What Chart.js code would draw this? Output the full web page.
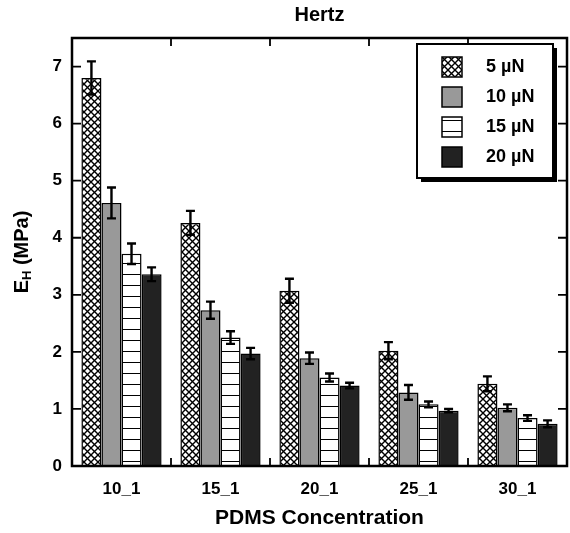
<!DOCTYPE html>
<html>
<head>
<meta charset="utf-8">
<script src="https://cdn.jsdelivr.net/npm/chart.js@4"></script>
<style>
  body { margin: 0; background: #fff; }
  #wrap { width: 570px; height: 533px; position: relative; }
</style>
</head>
<body>
<div id="wrap"><canvas id="grafico"></canvas></div>
<script>
const categories = ["10_1", "15_1", "20_1", "25_1", "30_1"];
const seriesLabels = ["5 µN", "10 µN", "15 µN", "20 µN"];
const e5 = [6.80, 4.26, 3.07, 2.02, 1.44];
const e10 = [4.61, 2.73, 1.89, 1.29, 1.02];
const e15 = [3.72, 2.25, 1.55, 1.08, 0.84];
const e20 = [3.36, 1.97, 1.41, 0.97, 0.74];
const err5 = [0.29, 0.21, 0.21, 0.15, 0.13];
const err10 = [0.27, 0.15, 0.10, 0.13, 0.06];
const err15 = [0.18, 0.11, 0.07, 0.05, 0.05];
const err20 = [0.12, 0.10, 0.05, 0.03, 0.06];
const yTicks = [0, 1, 2, 3, 4, 5, 6, 7];

const FONT = "'Liberation Sans', Arial, sans-serif";

function patron(w, h, dibujar) {
  const c = document.createElement("canvas");
  c.width = w; c.height = h;
  const g = c.getContext("2d");
  g.fillStyle = "#fff";
  g.fillRect(0, 0, w, h);
  dibujar(g);
  return g.createPattern(c, "repeat");
}

const cruzado = patron(7, 7, g => {
  g.strokeStyle = "#000";
  g.lineWidth = 1.4;
  g.beginPath();
  g.moveTo(0, 0); g.lineTo(7, 7);
  g.moveTo(7, 0); g.lineTo(0, 7);
  g.stroke();
});
const rayado = patron(8, 11, g => {
  g.fillStyle = "#000";
  g.fillRect(0, 10, 8, 1.4);
});

const rellenos = [cruzado, "#999999", rayado, "#222222"];
const valores = [e5, e10, e15, e20];
const errores = [err5, err10, err15, err20];

const datasets = valores.map((v, i) => ({
  label: seriesLabels[i],
  data: v,
  errores: errores[i],
  backgroundColor: rellenos[i],
  borderColor: "#000",
  borderWidth: 1.5,
  barPercentage: 1.0,
  categoryPercentage: 0.81
}));

const barrasError = {
  id: "barrasError",
  afterDatasetsDraw(chart) {
    const ctx = chart.ctx;
    const y = chart.scales.y;
    ctx.save();
    ctx.strokeStyle = "#000";
    ctx.lineWidth = 2.4;
    chart.data.datasets.forEach((ds, i) => {
      chart.getDatasetMeta(i).data.forEach((bar, j) => {
        const v = ds.data[j], e = ds.errores[j];
        const yt = y.getPixelForValue(v + e);
        const yb = y.getPixelForValue(v - e);
        ctx.beginPath();
        ctx.moveTo(bar.x, yt); ctx.lineTo(bar.x, yb);
        ctx.moveTo(bar.x - 4.5, yt); ctx.lineTo(bar.x + 4.5, yt);
        ctx.moveTo(bar.x - 4.5, yb); ctx.lineTo(bar.x + 4.5, yb);
        ctx.stroke();
      });
    });
    ctx.restore();
  }
};

const marco = {
  id: "marco",
  afterDraw(chart) {
    const ctx = chart.ctx;
    const a = chart.chartArea;
    const x = chart.scales.x, y = chart.scales.y;
    ctx.save();
    ctx.strokeStyle = "#000";
    ctx.lineWidth = 2.5;
    ctx.strokeRect(a.left, a.top, a.right - a.left, a.bottom - a.top);

    // marcas hacia dentro
    ctx.lineWidth = 1.8;
    ctx.beginPath();
    yTicks.forEach(v => {
      const py = y.getPixelForValue(v);
      if (v === 0) return;
      ctx.moveTo(a.left, py); ctx.lineTo(a.left + 9, py);
      ctx.moveTo(a.right, py); ctx.lineTo(a.right - 9, py);
    });
    for (let i = 1; i < categories.length; i++) {
      const px = (x.getPixelForValue(i - 1) + x.getPixelForValue(i)) / 2;
      ctx.moveTo(px, a.bottom); ctx.lineTo(px, a.bottom - 8);
      ctx.moveTo(px, a.top); ctx.lineTo(px, a.top + 8);
    }
    ctx.stroke();

    // titulos
    ctx.fillStyle = "#000";
    ctx.textAlign = "center";
    ctx.textBaseline = "middle";
    ctx.font = "bold 20px " + FONT;
    ctx.fillText("Hertz", (a.left + a.right) / 2, 15);
    ctx.font = "bold 21px " + FONT;
    ctx.fillText("PDMS Concentration", (a.left + a.right) / 2, 518);

    // eje y con subindice
    ctx.translate(22, (a.top + a.bottom) / 2);
    ctx.rotate(-Math.PI / 2);
    const p1 = "E", p3 = " (MPa)";
    ctx.font = "bold 13px " + FONT;
    const wSub = ctx.measureText("H").width;
    ctx.font = "bold 20px " + FONT;
    const w1 = ctx.measureText(p1).width, w3 = ctx.measureText(p3).width;
    let sx = -(w1 + wSub + w3) / 2;
    ctx.textAlign = "left";
    ctx.fillText(p1, sx, 0);
    ctx.font = "bold 13px " + FONT;
    ctx.fillText("H", sx + w1, 5);
    ctx.font = "bold 20px " + FONT;
    ctx.fillText(p3, sx + w1 + wSub, 0);
    ctx.restore();

    // leyenda
    const lx = 417, ly = 44, lw = 136, lh = 134;
    ctx.save();
    ctx.fillStyle = "#000";
    ctx.fillRect(lx + 4, ly + 4, lw, lh);
    ctx.fillStyle = "#fff";
    ctx.fillRect(lx, ly, lw, lh);
    ctx.strokeStyle = "#000";
    ctx.lineWidth = 2;
    ctx.strokeRect(lx, ly, lw, lh);
    ctx.font = "bold 18px " + FONT;
    ctx.textBaseline = "middle";
    chart.data.datasets.forEach((ds, i) => {
      const cy = ly + 23 + i * 30;
      ctx.fillStyle = ds.backgroundColor;
      ctx.fillRect(lx + 25, cy - 10, 20, 20);
      ctx.lineWidth = 1.5;
      ctx.strokeRect(lx + 25, cy - 10, 20, 20);
      ctx.fillStyle = "#000";
      ctx.fillText(ds.label, lx + 69, cy);
    });
    ctx.restore();
  }
};

const ctx = document.getElementById("grafico").getContext("2d");
new Chart(ctx, {
  type: "bar",
  data: { labels: categories, datasets: datasets },
  plugins: [barrasError, marco],
  options: {
    responsive: true,
    maintainAspectRatio: false,
    animation: false,
    layout: { padding: { top: 38, right: 3, left: 0, bottom: 0 } },
    plugins: {
      legend: { display: false },
      tooltip: { enabled: false }
    },
    scales: {
      x: {
        grid: { display: false, drawTicks: false },
        border: { display: false },
        ticks: { color: "#000", padding: 13, font: { family: FONT, size: 17, weight: "bold" }, maxRotation: 0 },
        afterFit(s) { s.height = 67; }
      },
      y: {
        min: 0,
        max: 7.5,
        grid: { display: false, drawTicks: false },
        border: { display: false },
        ticks: { color: "#000", padding: 10, font: { family: FONT, size: 17, weight: "bold" } },
        afterBuildTicks(s) { s.ticks = yTicks.map(v => ({ value: v })); },
        afterFit(s) { s.width = 72; }
      }
    }
  }
});
</script>
</body>
</html>
